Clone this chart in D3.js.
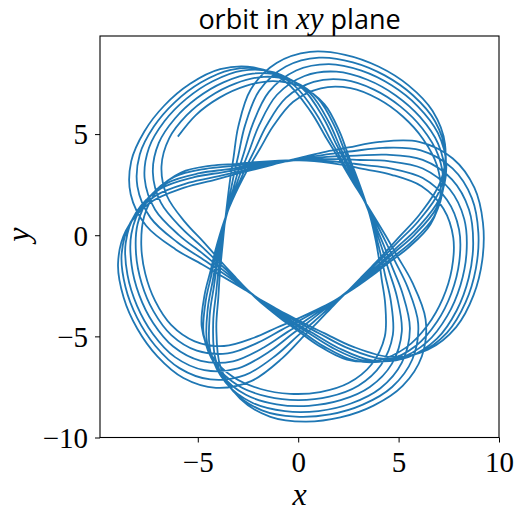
<!DOCTYPE html>
<html>
<head>
<meta charset="utf-8">
<script src="https://cdn.jsdelivr.net/npm/d3@7"></script>
<style>
  body { margin: 0; background: #fff; }
  .tick text { font-family: "Liberation Serif", "DejaVu Serif", serif; font-size: 29px; fill: #000; }
</style>
</head>
<body>
<svg id="chart" width="517" height="516"></svg>
<script>
// Turning points of one cycle of the orbit (degrees, clockwise order),
// alternating apocentre / pericentre.
const turnAngles = [128.1, 24.25, -84.9, -194.25, -303.6, -413.0, -518.0, -623.0, -735.5, -848.0];
const periRadius = 3.7;
// apocentre radius and orientation shift of each successive cycle
const cycleApoRadius = [7.85, 8.15, 8.45, 8.75, 9.0, 9.25];
const cycleShift = [-8, -5, -1.5, 1.5, 5, 8];
// radial profile of a leg: fraction of the way from pericentre to apocentre
const profileU = [0, 0.1, 0.2, 0.3, 0.4, 0.5, 0.6, 0.7, 0.8, 0.9, 1];
const profileF = [0, 0.011, 0.049, 0.12, 0.236, 0.44, 0.70, 0.88, 0.97, 0.995, 1];
const startU = 0.8;
const xTicks = [-5, 0, 5, 10];
const yTicks = [-10, -5, 0, 5];

(function draw() {
  const svg = d3.select("#chart");
  const pl = 100, pr = 499, pt = 36, pb = 437.5;
  const x = d3.scaleLinear().domain([-9.87, 10]).range([pl, pr]);
  const y = d3.scaleLinear().domain([-10, 9.85]).range([pb, pt]);
  const profile = d3.scaleLinear().domain(profileU).range(profileF);

  // sequence of turning points over all cycles
  const turns = [];
  cycleApoRadius.forEach((ra, c) => {
    turnAngles.forEach((a, k) => {
      turns.push({ phi: a + cycleShift[c] - 1080 * c, r: k % 2 === 0 ? ra : periRadius, apo: k % 2 === 0 });
    });
  });

  function legPoints(from, to, us) {
    const p = from.apo ? to : from, q = from.apo ? from : to;
    const list = from.apo ? us.slice().reverse() : us;
    return list.map(u => {
      const f = profile(u);
      return { phi: p.phi + u * (q.phi - p.phi), r: p.r + f * (q.r - p.r) };
    });
  }

  const pts = [];
  // opening part-leg, approaching the first apocentre
  const firstPeri = { phi: turnAngles[turnAngles.length - 1] + 1080 + cycleShift[0], r: periRadius, apo: false };
  pts.push(...legPoints(firstPeri, turns[0], profileU.filter(u => u >= startU)));
  for (let i = 0; i + 1 < turns.length; i++) {
    const seg = legPoints(turns[i], turns[i + 1], profileU);
    pts.push(...seg.slice(1));
  }

  const line = d3.line()
    .x(d => x(d.r * Math.cos(d.phi * Math.PI / 180)))
    .y(d => y(d.r * Math.sin(d.phi * Math.PI / 180)))
    .curve(d3.curveCatmullRom.alpha(0.5));

  svg.append("defs").append("clipPath").attr("id", "plotclip")
    .append("rect").attr("x", pl).attr("y", pt).attr("width", pr - pl).attr("height", pb - pt);

  svg.append("path")
    .datum(pts)
    .attr("clip-path", "url(#plotclip)")
    .attr("fill", "none")
    .attr("stroke", "#1f77b4")
    .attr("stroke-width", 1.8)
    .attr("stroke-linejoin", "round")
    .attr("d", line);

  // axes
  const fmt = d => d < 0 ? "\u2212" + Math.abs(d) : d;
  const xAxis = d3.axisBottom(x).tickValues(xTicks).tickSize(5).tickSizeOuter(0).tickPadding(9).tickFormat(fmt);
  const yAxis = d3.axisLeft(y).tickValues(yTicks).tickSize(5).tickSizeOuter(0).tickPadding(7).tickFormat(fmt);

  const gx = svg.append("g").attr("transform", `translate(0,${pb})`).call(xAxis);
  const gy = svg.append("g").attr("transform", `translate(${pl},0)`).call(yAxis);
  [gx, gy].forEach(g => {
    g.select(".domain").remove();
    g.selectAll(".tick line").attr("stroke", "#000").attr("stroke-width", 1);
  });
  gy.selectAll(".tick text").attr("dy", "0.34em");

  svg.append("rect")
    .attr("x", pl).attr("y", pt).attr("width", pr - pl).attr("height", pb - pt)
    .attr("fill", "none").attr("stroke", "#000").attr("stroke-width", 1.1);

  // title and axis labels
  const title = svg.append("text")
    .attr("x", (pl + pr) / 2).attr("y", 29)
    .attr("text-anchor", "middle")
    .style("font-family", "'Open Sans', 'DejaVu Sans', sans-serif")
    .style("font-size", "27px");
  title.append("tspan").text("orbit in ");
  title.append("tspan").style("font-family", "'Liberation Serif', serif").style("font-style", "italic").style("font-size", "31px").text("xy");
  title.append("tspan").text(" plane");

  svg.append("text")
    .attr("x", (pl + pr) / 2).attr("y", 505)
    .attr("text-anchor", "middle")
    .style("font-family", "'Liberation Serif', serif").style("font-style", "italic").style("font-size", "32px")
    .text("x");

  svg.append("text")
    .attr("transform", `translate(29,${(pt + pb) / 2 - 2}) rotate(-90)`)
    .attr("text-anchor", "middle")
    .style("font-family", "'Liberation Serif', serif").style("font-style", "italic").style("font-size", "32px")
    .text("y");
})();
</script>
</body>
</html>
